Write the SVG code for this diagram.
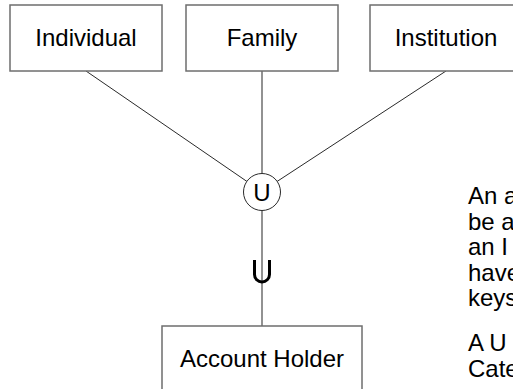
<svg xmlns="http://www.w3.org/2000/svg" width="513" height="389" viewBox="0 0 513 389">
  <style>
    .box { fill: #ffffff; stroke: #6e6e6e; stroke-width: 1.5; }
    .lbl { font-family: "Liberation Sans", Arial, sans-serif; font-size: 24px; fill: #000000; text-anchor: middle; }
    .note { font-family: "Liberation Sans", Arial, sans-serif; font-size: 24px; fill: #000000; }
    .edge { stroke: #2a2a2a; stroke-width: 1; fill: none; }
    .stem { stroke: #6e6e6e; stroke-width: 1.5; fill: none; }
  </style>
  <rect width="513" height="389" fill="#ffffff"/>

  <g id="connectors">
    <line class="edge" x1="86" y1="71" x2="247" y2="181.5"/>
    <line class="stem" x1="262" y1="71" x2="262" y2="173.5"/>
    <line class="edge" x1="446" y1="71" x2="277" y2="181.5"/>
    <line class="stem" x1="262" y1="210.5" x2="262" y2="326"/>
    <!-- subset cup on the union stem -->
    <path d="M254.5 260 V274.5 A7.5 7.5 0 0 0 269.5 274.5 V260" fill="none" stroke="#000000" stroke-width="3"/>
  </g>

  <g id="individual">
    <rect class="box" x="10" y="5" width="152" height="66"/>
    <text class="lbl" x="86" y="45.5">Individual</text>
  </g>
  <g id="family">
    <rect class="box" x="186" y="5" width="152" height="66"/>
    <text class="lbl" x="262" y="45.5">Family</text>
  </g>
  <g id="institution">
    <rect class="box" x="370" y="5" width="152" height="66"/>
    <text class="lbl" x="446" y="45.5">Institution</text>
  </g>
  <g id="union">
    <circle cx="262" cy="192" r="18.5" fill="#ffffff" stroke="#2a2a2a" stroke-width="1"/>
    <text class="lbl" x="262" y="200.5">U</text>
  </g>
  <g id="account-holder">
    <rect class="box" x="162" y="326" width="200" height="80"/>
    <text class="lbl" x="262" y="366.5">Account Holder</text>
  </g>

  <g id="notes">
    <text class="note" x="468" y="204">An a</text>
    <text class="note" x="468" y="230">be a</text>
    <text class="note" x="468" y="255">an I</text>
    <text class="note" x="468" y="281">have</text>
    <text class="note" x="468" y="306">keys</text>
    <text class="note" x="468" y="351">A U</text>
    <text class="note" x="468" y="377">Cate</text>
  </g>
</svg>
